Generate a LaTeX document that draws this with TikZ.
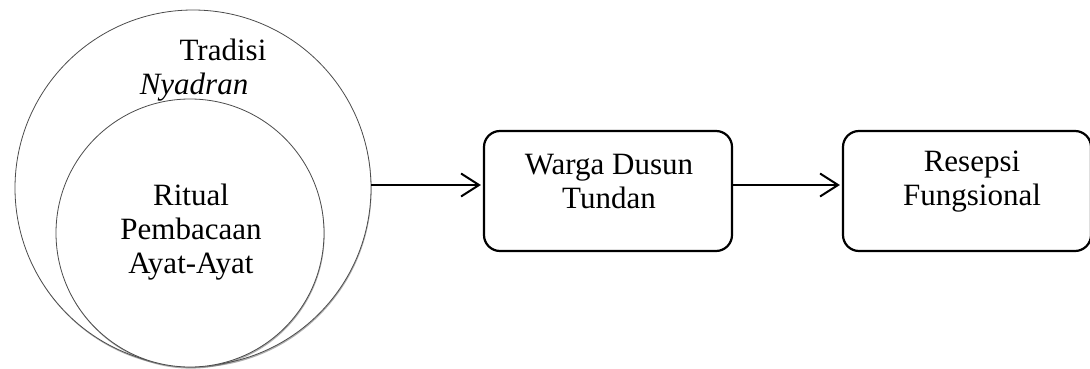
\documentclass[tikz,border=0pt]{standalone}
\usepackage{fontspec}
\setmainfont{Liberation Serif}
\usetikzlibrary{arrows.meta,shadows}
\begin{document}
\begin{tikzpicture}[x=1pt,y=-1pt,
  txt/.style={font=\fontsize{31}{34}\selectfont, align=center, inner sep=0pt},
  ring/.style={circle, draw=black!70, line width=0.8pt, fill=white, inner sep=0pt,
    drop shadow={shadow xshift=0.6pt, shadow yshift=-1.6pt, opacity=0.45, fill=black!70}},
  stage/.style={draw=black, line width=2.2pt, rounded corners=16pt, fill=white,
    minimum width=248pt, minimum height=120pt, inner sep=0pt},
  flow/.style={line width=2pt, -{Straight Barb[length=18pt, width=23pt, line width=2pt]}, shorten >=2pt}
]
\useasboundingbox (0,0) rectangle (1090,369);

% nested circles: the tradition and the ritual inside it
\node[ring, minimum size=356pt] (tradisi) at (193,188) {};
\node[txt] (tradisilbl) at (194,70) {\hspace*{58pt}Tradisi\\\textit{Nyadran}};
\node[ring, minimum size=268pt] (ritual) at (190,233) {};
\node[txt] (rituallbl) at (191,232) {Ritual\\Pembacaan\\Ayat-Ayat};

% process boxes
\node[stage] (warga) at (608,191) {};
\node[txt] (wargalbl) at (609,182) {Warga Dusun\\Tundan};
\node[stage] (resepsi) at (967,191) {};
\node[txt] (resepsilbl) at (972,182) {Resepsi\\Fungsional};

% connectors
\draw[flow] ([yshift=3]tradisi.east) -- ([yshift=6]warga.west);
\draw[flow] ([yshift=6]warga.east) -- ([yshift=6]resepsi.west);
\end{tikzpicture}
\end{document}
